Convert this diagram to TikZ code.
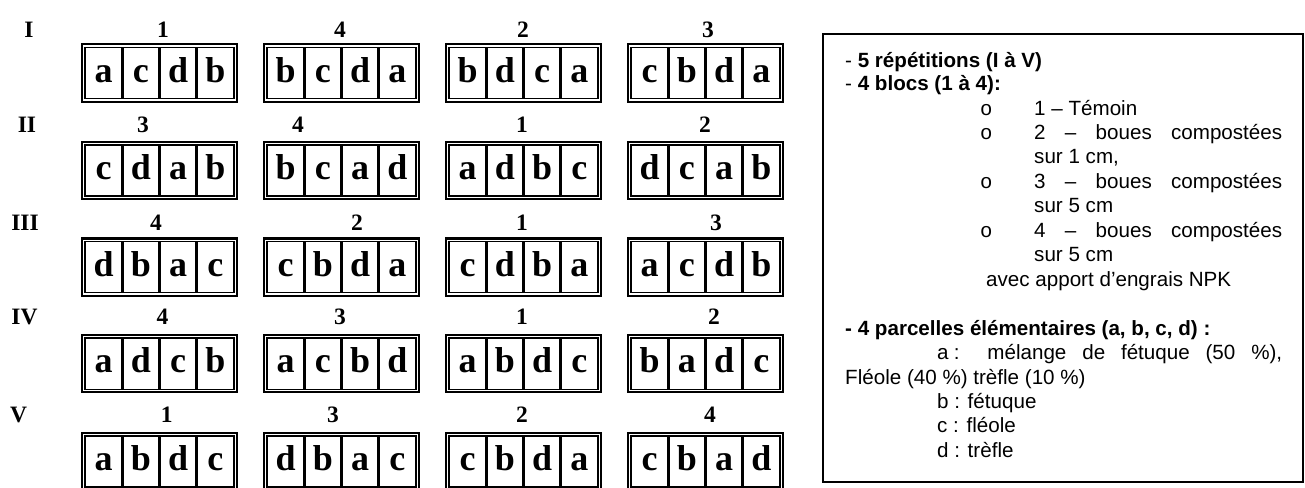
\documentclass[tikz,border=0pt]{standalone}
\usepackage{fontspec}
\setmainfont{Liberation Serif}
\newfontfamily\arial{Liberation Sans}
\newfontfamily\cour{Liberation Mono}
\tikzset{
  outerline/.style={line width=2.2pt},
  innerline/.style={line width=1.6pt},
  divider/.style={line width=3pt},
  cell/.style={inner sep=0pt, anchor=base, font=\fontsize{36}{40}\selectfont\bfseries},
  lab/.style={inner sep=0pt, anchor=base, font=\fontsize{23.5}{28}\selectfont\bfseries},
  leg/.style={inner sep=0pt, anchor=base west, font=\fontsize{20.6}{24}\selectfont\arial},
  bul/.style={inner sep=0pt, anchor=base west, font=\fontsize{20.6}{24}\selectfont\cour},
}
\newcommand\blk[7]{%
  \node[draw, outerline, minimum width=154.8pt, minimum height=57.2pt, inner sep=0pt, outer sep=0pt] (#1) at ({#2+78.5},{#3+29.7}) {};
  \node[draw, innerline, minimum width=148.8pt, minimum height=51.2pt, inner sep=0pt, outer sep=0pt] (#1i) at (#1.center) {};
  \draw[divider] ({#2+4.1+37.2},{#3+4.1}) -- ({#2+4.1+37.2},{#3+55.3});
  \draw[divider] ({#2+4.1+74.4},{#3+4.1}) -- ({#2+4.1+74.4},{#3+55.3});
  \draw[divider] ({#2+4.1+111.6},{#3+4.1}) -- ({#2+4.1+111.6},{#3+55.3});
  \node[cell] (#1a) at ({#2+4.1+18.6},{#3+38.8}) {#4};
  \node[cell] (#1b) at ({#2+4.1+55.8},{#3+38.8}) {#5};
  \node[cell] (#1c) at ({#2+4.1+93.0},{#3+38.8}) {#6};
  \node[cell] (#1d) at ({#2+4.1+130.2},{#3+38.8}) {#7};
}
\begin{document}
\begin{tikzpicture}[x=1pt,y=-1pt]
\useasboundingbox (0,0) rectangle (1305,487);
% row labels
\node[lab] (rI) at (29,37.3) {I};
\node[lab] (rII) at (27,132) {II};
\node[lab] (rIII) at (25,230) {III};
\node[lab] (rIV) at (24.5,324.5) {IV};
\node[lab] (rV) at (18.5,422.5) {V};
% row I
\node[lab] (t11) at (163,37.3) {1};
\node[lab] (t12) at (340,37.3) {4};
\node[lab] (t13) at (523,37.3) {2};
\node[lab] (t14) at (708,37.3) {3};
\blk{p11}{81}{43.3}{a}{c}{d}{b}
\blk{p12}{263}{43.3}{b}{c}{d}{a}
\blk{p13}{445}{43.3}{b}{d}{c}{a}
\blk{p14}{627}{43.3}{c}{b}{d}{a}
% row II
\node[lab] (t21) at (143,132) {3};
\node[lab] (t22) at (298,132) {4};
\node[lab] (t23) at (522,132) {1};
\node[lab] (t24) at (705,132) {2};
\blk{p21}{81}{140.7}{c}{d}{a}{b}
\blk{p22}{263}{140.7}{b}{c}{a}{d}
\blk{p23}{445}{140.7}{a}{d}{b}{c}
\blk{p24}{627}{140.7}{d}{c}{a}{b}
% row III
\node[lab] (t31) at (156,230) {4};
\node[lab] (t32) at (357,230) {2};
\node[lab] (t33) at (522,230) {1};
\node[lab] (t34) at (716,230) {3};
\blk{p31}{81}{237.3}{d}{b}{a}{c}
\blk{p32}{263}{237.3}{c}{b}{d}{a}
\blk{p33}{445}{237.3}{c}{d}{b}{a}
\blk{p34}{627}{237.3}{a}{c}{d}{b}
% row IV
\node[lab] (t41) at (162.5,324.5) {4};
\node[lab] (t42) at (340,324.5) {3};
\node[lab] (t43) at (522,324.5) {1};
\node[lab] (t44) at (714,324.5) {2};
\blk{p41}{81}{334}{a}{d}{c}{b}
\blk{p42}{263}{334}{a}{c}{b}{d}
\blk{p43}{445}{334}{a}{b}{d}{c}
\blk{p44}{627}{334}{b}{a}{d}{c}
% row V
\node[lab] (t51) at (166.7,422.5) {1};
\node[lab] (t52) at (333,422.5) {3};
\node[lab] (t53) at (522,422.5) {2};
\node[lab] (t54) at (710,422.5) {4};
\blk{p51}{81}{431.7}{a}{b}{d}{c}
\blk{p52}{263}{431.7}{d}{b}{a}{c}
\blk{p53}{445}{431.7}{c}{b}{d}{a}
\blk{p54}{627}{431.7}{c}{b}{a}{d}
% legend
\node[draw, line width=1.8pt, minimum width=480pt, minimum height=447.5pt, inner sep=0pt, outer sep=0pt] (legend) at (1063,258) {};
\node[leg] (l1) at (845,67) {- \textbf{5 répétitions (I à V)}};
\node[leg] (l2) at (845,90.5) {- \textbf{4 blocs (1 à 4):}};
\node[bul] (b3) at (980,115) {o};
\node[leg] (l3) at (1034,115) {1 – Témoin};
\node[bul] (b4) at (980,139.3) {o};
\node[leg] (l4) at (1034,139.3) {\makebox[248pt][s]{2 – boues compostées}};
\node[leg] (l5) at (1034,163.5) {sur 1 cm,};
\node[bul] (b6) at (980,188) {o};
\node[leg] (l6) at (1034,188) {\makebox[248pt][s]{3 – boues compostées}};
\node[leg] (l7) at (1034,212.5) {sur 5 cm};
\node[bul] (b8) at (980,237) {o};
\node[leg] (l8) at (1034,237) {\makebox[248pt][s]{4 – boues compostées}};
\node[leg] (l9) at (1034,261.5) {sur 5 cm};
\node[leg] (l10) at (986,286) {avec apport d’engrais NPK};
\node[leg] (l11) at (845,335) {\textbf{- 4 parcelles élémentaires (a, b, c, d) :}};
\node[leg] (l12) at (937,359.5) {\makebox[345pt][s]{a\kern0.25em: mélange de fétuque (50 \%),}};
\node[leg] (l13) at (845,384) {Fléole (40 \%) trèfle (10 \%)};
\node[leg] (l14) at (937,408.3) {b : fétuque};
\node[leg] (l15) at (937,432.7) {c : fléole};
\node[leg] (l16) at (937,457) {d : trèfle};
\end{tikzpicture}
\end{document}
